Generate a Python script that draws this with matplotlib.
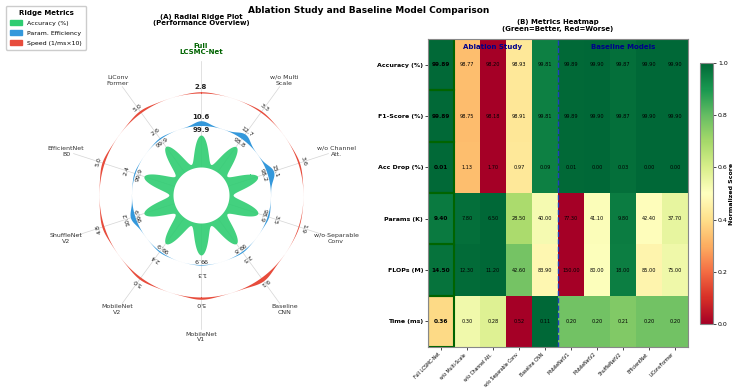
import numpy as np
import matplotlib
matplotlib.use("Agg")
import matplotlib.pyplot as plt
from matplotlib.patches import Patch, Rectangle

# ---- data ----
radial_names = ["Full\nLCSMC-Net", "w/o Multi\nScale", "w/o Channel\nAtt.",
                "w/o Separable\nConv", "Baseline\nCNN", "MobileNet\nV1",
                "MobileNet\nV2", "ShuffleNet\nV2", "EfficientNet\nB0",
                "LiConv\nFormer"]
heat_cols = ["Full LCSMC-Net", "w/o Multi-Scale", "w/o Channel Att.",
             "w/o Separable Conv", "Baseline CNN", "MobileNetV1",
             "MobileNetV2", "ShuffleNetV2", "EfficientNet", "LiConvFormer"]
heat_rows = ["Accuracy (%)", "F1-Score (%)", "Acc Drop (%)",
             "Params (K)", "FLOPs (M)", "Time (ms)"]

accuracy = [99.89, 98.77, 98.20, 98.93, 99.81, 99.89, 99.90, 99.87, 99.90, 99.90]
f1_score = [99.89, 98.75, 98.18, 98.91, 99.81, 99.89, 99.90, 99.87, 99.90, 99.90]
acc_drop = [0.01, 1.13, 1.70, 0.97, 0.09, 0.01, 0.00, 0.03, 0.00, 0.00]
params_k = [9.40, 7.80, 6.50, 28.50, 40.00, 77.30, 41.10, 9.80, 42.40, 37.70]
flops_m = [14.50, 12.30, 11.20, 42.60, 83.90, 150.00, 80.00, 18.00, 85.00, 75.00]
time_ms = [0.36, 0.30, 0.28, 0.52, 0.11, 0.20, 0.20, 0.21, 0.20, 0.20]
higher_better = [True, True, False, False, False, False]

GREEN = "#2ecc71"
BLUE = "#3498db"
RED = "#e74c3c"

fig = plt.figure(figsize=(7.37, 3.88), dpi=100)
fig.suptitle("Ablation Study and Baseline Model Comparison",
             fontsize=6.5, fontweight="bold", x=0.5, y=0.985)

# ---- (A) radial ridge plot ----
W, H = 737.0, 388.0
cx, cy, R = 201.0, 195.0, 152.0
ax = fig.add_axes([(cx - R) / W, (H - cy - R) / H, 2 * R / W, 2 * R / H],
                  projection="polar")
ax.set_ylim(0, 152)
ax.axis("off")

n = len(radial_names)
acc = np.array(accuracy)
p_eff = acc / np.array(params_k)
speed = 1.0 / np.array(time_ms)
angles = np.pi / 2 - np.arange(n) * 2 * np.pi / n

th = np.linspace(0, 2 * np.pi, 3000)


def angdiff(a, b):
    return (a - b + np.pi) % (2 * np.pi) - np.pi


r_in = 28.0
petal = np.full_like(th, r_in)
for a, v in zip(angles, acc):
    petal += v * 0.32 * np.exp(-(angdiff(th, a) / 0.19) ** 2)

for a in angles:
    ax.plot([a, a], [r_in, 134], color="#d5d5d5", lw=0.5, zorder=0)

ax.fill_between(th, 0, petal, color=GREEN, alpha=0.9, lw=0, zorder=2)
ax.fill_between(th, 0, r_in, color="white", lw=0, zorder=3)

for a, pv, sv in zip(angles, p_eff, speed):
    t = np.linspace(a - 0.34, a + 0.34, 300)
    g = np.exp(-(angdiff(t, a) / 0.14) ** 2)
    ax.fill_between(t, 69.5, 69.5 + pv * 0.45 * g, color=BLUE, lw=0, zorder=2)
    t2 = np.linspace(a - 0.32, a + 0.32, 300)
    g2 = np.exp(-(angdiff(t2, a) / 0.15) ** 2)
    ax.fill_between(t2, 102, 102 + sv * 0.45 * g2, color=RED, lw=0, zorder=2)

for i, (a, v, pv, sv) in enumerate(zip(angles, acc, p_eff, speed)):
    rot = np.degrees(a) - 90
    fw = "bold" if i == 0 else "normal"
    fs = 5 if i == 0 else 4.5
    for r, val in ((65, v), (78, pv), (108, sv)):
        ax.text(a, r, f"{val:.1f}", rotation=rot, rotation_mode="anchor",
                ha="center", va="center", fontsize=fs, fontweight=fw,
                color="#222222", zorder=4)
    if i == 0:
        ax.text(a, 146, radial_names[i], ha="center", va="center",
                fontsize=5, fontweight="bold", color="darkgreen")
    else:
        ax.text(a, 142, radial_names[i], ha="center", va="center",
                fontsize=4.5, color="#333333")

fig.text(cx / W, 1 - 20 / H, "(A) Radial Ridge Plot\n(Performance Overview)",
         ha="center", va="center", fontsize=5, fontweight="bold")

handles = [Patch(color=GREEN, label="Accuracy (%)"),
           Patch(color=BLUE, label="Param. Efficiency"),
           Patch(color=RED, label="Speed (1/ms×10)")]
leg = fig.legend(handles=handles, loc="upper left", bbox_to_anchor=(0.004, 0.993),
                 title="Ridge Metrics", fontsize=4.5, title_fontsize=5,
                 frameon=True, framealpha=1, edgecolor="#cccccc",
                 labelspacing=0.75, borderpad=0.6)
leg.get_title().set_fontweight("bold")

# ---- (B) heatmap ----
raw = np.array([accuracy, f1_score, acc_drop, params_k, flops_m, time_ms])
norm = np.zeros_like(raw)
for i, hb in enumerate(higher_better):
    row = raw[i]
    s = (row - row.min()) / (row.max() - row.min())
    norm[i] = s if hb else 1 - s

hx = fig.add_axes([428 / W, (H - 347) / H, 260 / W, 308 / H])
im = hx.imshow(norm, cmap="RdYlGn", vmin=0, vmax=1, aspect="auto")
for i in range(raw.shape[0]):
    for j in range(raw.shape[1]):
        hx.text(j, i, f"{raw[i, j]:.2f}", ha="center", va="center",
                fontsize=3.6 if j else 4.2, fontweight="bold" if j == 0 else "normal",
                color="black")
    hx.add_patch(Rectangle((-0.5, i - 0.5), 1, 1, fill=False,
                           edgecolor="darkgreen", lw=1.5))
hx.axvline(4.5, color="#1f3fbf", ls="--", lw=1)
hx.text(2, -0.35, "Ablation Study", ha="center", va="center", fontsize=5,
        fontweight="bold", color="darkblue")
hx.text(7, -0.35, "Baseline Models", ha="center", va="center", fontsize=5,
        fontweight="bold", color="darkblue")
hx.set_xticks(range(len(heat_cols)))
hx.set_xticklabels(heat_cols, rotation=45, ha="right", fontsize=3.3)
hx.set_yticks(range(len(heat_rows)))
hx.set_yticklabels(heat_rows, fontsize=4.5, fontweight="bold")
hx.tick_params(length=2, width=0.5, pad=1.5)
for sp in hx.spines.values():
    sp.set_color("#888888")
hx.set_title("(B) Metrics Heatmap\n(Green=Better, Red=Worse)", fontsize=5,
             fontweight="bold", pad=6)

cax = fig.add_axes([700 / W, 64 / H, 13 / W, 261 / H])
cb = fig.colorbar(im, cax=cax)
cb.set_label("Normalized Score", fontsize=4.5, fontweight="bold", rotation=90,
             labelpad=1)
cb.ax.tick_params(labelsize=4.5, length=2, width=0.5, pad=1.5)
cb.outline.set_edgecolor("#888888")

fig.savefig("out.png", dpi=100)
